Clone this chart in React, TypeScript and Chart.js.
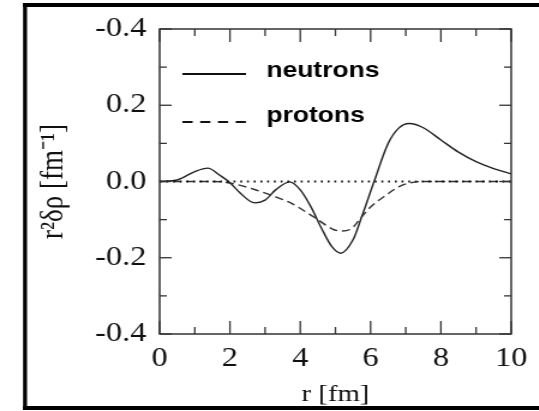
import React, { useEffect, useRef } from "react";
import { Chart, registerables } from "chart.js";

Chart.register(...registerables);

// ---- data ----
const neutronR = [0, 0.5, 1.0, 1.37, 1.7, 2.0, 2.3, 2.7, 3.0, 3.3, 3.7, 4.0, 4.3, 4.6, 4.9, 5.15, 5.5, 5.75, 6.1, 6.5, 6.8, 7.1, 7.5, 8.0, 8.5, 9.0, 9.5, 10];
const neutronVal = [0, 0.004, 0.026, 0.035, 0.017, -0.003, -0.031, -0.056, -0.049, -0.022, -0.001, -0.022, -0.066, -0.122, -0.171, -0.188, -0.153, -0.092, 0, 0.1, 0.14, 0.152, 0.141, 0.109, 0.077, 0.052, 0.034, 0.02];

const protonR = [0, 1.5, 1.8, 2.2, 2.7, 3.2, 3.7, 4.2, 4.5, 4.9, 5.15, 5.45, 5.75, 6.0, 6.45, 6.8, 7.1, 7.5, 10];
const protonVal = [0, 0, -0.001, -0.008, -0.021, -0.037, -0.055, -0.082, -0.1, -0.124, -0.13, -0.124, -0.093, -0.067, -0.035, -0.014, -0.004, 0, 0];

const zeroR = [0, 10];
const zeroVal = [0, 0];

const seriesNames = ["neutrons", "protons"];

const xTickValues = [0, 2, 4, 6, 8, 10];
const xMinorTicks = [1, 3, 5, 7, 9];
const yTickValues = [-0.4, -0.2, 0, 0.2, 0.4];
const yTickLabels = ["-0.4", "-0.2", "0.0", "0.2", "-0.4"];
const yMinorTicks = [-0.3, -0.1, 0.1, 0.3];

const xTitle = "r [fm]";
const yTitle = "r\u00B2\u03B4\u03C1 [fm\u207B\u00B9]";

const STRETCH = 1.2;
const CW = 449;
const CH = 411;

const serif = "'Liberation Serif', 'Times New Roman', serif";
const sans = "'Liberation Sans', Arial, sans-serif";

const framePlugin = {
  id: "frameTicks",
  afterDatasetsDraw(chart: any) {
    const { ctx, chartArea, scales } = chart;
    const { left, right, top, bottom } = chartArea;
    const x = scales.x;
    const y = scales.y;
    ctx.save();
    ctx.strokeStyle = "#333";
    ctx.lineWidth = 1.5;
    ctx.strokeRect(left, top, right - left, bottom - top);
    const seg = (x1: number, y1: number, x2: number, y2: number) => {
      ctx.beginPath();
      ctx.moveTo(x1, y1);
      ctx.lineTo(x2, y2);
      ctx.stroke();
    };
    ctx.lineWidth = 1.3;
    xTickValues.forEach((v) => {
      const p = x.getPixelForValue(v);
      seg(p, bottom, p, bottom - 13);
      seg(p, top, p, top + 13);
    });
    xMinorTicks.forEach((v) => {
      const p = x.getPixelForValue(v);
      seg(p, bottom, p, bottom - 7);
      seg(p, top, p, top + 7);
    });
    yTickValues.forEach((v) => {
      const p = y.getPixelForValue(v);
      seg(left, p, left + 10, p);
      seg(right, p, right - 10, p);
    });
    yMinorTicks.forEach((v) => {
      const p = y.getPixelForValue(v);
      seg(left, p, left + 6, p);
      seg(right, p, right - 6, p);
    });

    // legend
    const lx = left + 19;
    const lw = 53;
    const tx = left + 89;
    ctx.strokeStyle = "#111";
    ctx.lineWidth = 2;
    ctx.setLineDash([]);
    seg(lx, 74, lx + lw, 74);
    ctx.setLineDash([8.5, 6.3]);
    seg(lx, 122, lx + lw, 122);
    ctx.setLineDash([]);
    ctx.fillStyle = "#000";
    ctx.font = `bold 22px ${sans}`;
    ctx.textAlign = "left";
    ctx.textBaseline = "alphabetic";
    ctx.fillText(seriesNames[0], tx, 77);
    ctx.fillText(seriesNames[1], tx, 122);

    // outer border
    ctx.fillStyle = "#000";
    ctx.fillRect(19.2, 3, 3.3, 407);
    ctx.fillRect(19.2, 3, CW, 4);
    ctx.fillRect(19.2, 406, CW, 4);
    ctx.restore();
  },
};

export default function App() {
  const ref = useRef<HTMLCanvasElement | null>(null);
  useEffect(() => {
    if (!ref.current) return;
    const chart = new Chart(ref.current, {
      type: "line",
      data: {
        datasets: [
          {
            label: "zero",
            data: zeroR.map((r, i) => ({ x: r, y: zeroVal[i] })),
            borderColor: "#111",
            borderWidth: 1.8,
            borderDash: [1.6, 4],
            pointRadius: 0,
            fill: false,
          },
          {
            label: seriesNames[1],
            data: protonR.map((r, i) => ({ x: r, y: protonVal[i] })),
            borderColor: "#333",
            borderWidth: 1.4,
            borderDash: [7, 4],
            pointRadius: 0,
            cubicInterpolationMode: "monotone",
            fill: false,
          },
          {
            label: seriesNames[0],
            data: neutronR.map((r, i) => ({ x: r, y: neutronVal[i] })),
            borderColor: "#222",
            borderWidth: 1.4,
            pointRadius: 0,
            cubicInterpolationMode: "monotone",
            fill: false,
          },
        ],
      },
      options: {
        animation: false,
        responsive: false,
        maintainAspectRatio: false,
        layout: { padding: { left: 0, right: 23, top: 29, bottom: 0 } },
        plugins: { legend: { display: false }, tooltip: { enabled: false } },
        scales: {
          x: {
            type: "linear",
            min: 0,
            max: 10,
            grid: { display: false, drawTicks: false },
            border: { display: false },
            afterBuildTicks: (s: any) => {
              s.ticks = xTickValues.map((v) => ({ value: v }));
            },
            afterFit: (s: any) => {
              s.height = 77;
            },
            ticks: {
              padding: 9,
              color: "#111",
              font: { family: serif, size: 27 },
              callback: (v: any) => String(v),
            },
            title: {
              display: true,
              text: xTitle,
              color: "#111",
              font: { family: serif, size: 24 },
              padding: { top: 0, bottom: 2 },
            },
          },
          y: {
            type: "linear",
            min: -0.4,
            max: 0.4,
            grid: { display: false, drawTicks: false },
            border: { display: false },
            afterBuildTicks: (s: any) => {
              s.ticks = yTickValues.map((v) => ({ value: v }));
            },
            afterFit: (s: any) => {
              s.width = 133;
            },
            ticks: {
              padding: 11,
              color: "#111",
              font: { family: serif, size: 27 },
              callback: (v: any) => {
                const i = yTickValues.findIndex((t) => Math.abs(t - v) < 1e-9);
                return i >= 0 ? yTickLabels[i] : "";
              },
            },
            title: {
              display: true,
              text: yTitle,
              color: "#111",
              font: { family: serif, size: 27 },
              padding: { top: 29, bottom: 0 },
            },
          },
        },
      },
      plugins: [framePlugin],
    } as any);
    return () => chart.destroy();
  }, []);

  return (
    <div style={{ position: "absolute", left: 0, top: 0, width: 539, height: 411, overflow: "hidden", background: "#fff" }}>
      <canvas
        ref={ref}
        width={CW}
        height={CH}
        style={{ display: "block", width: CW, height: CH, transform: `scaleX(${STRETCH})`, transformOrigin: "0 0" }}
      />
    </div>
  );
}
